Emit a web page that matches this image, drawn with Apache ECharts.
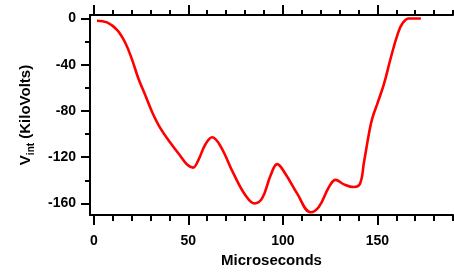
<!DOCTYPE html>
<html>
<head>
<meta charset="utf-8">
<script src="https://cdn.jsdelivr.net/npm/echarts@6/dist/echarts.min.js"></script>
<style>html,body{margin:0;padding:0;background:#fff}#c{width:454px;height:273px}</style>
</head>
<body>
<div id="c"></div>
<script>
var timeUs = [1.7, 7.0, 12.3, 16.7, 20.2, 23.7, 27.3, 30.8, 35.2, 40.5, 45.8, 49.5, 52.5, 55.5, 59, 62.6, 67, 74, 80.2, 85, 89, 93.5, 97, 101.4, 107.6, 114.7, 119.1, 124.4, 127.9, 132.3, 137.6, 140.8, 142.9, 145.6, 147.3, 150, 153.5, 157.1, 160.6, 163.3, 166.7, 173];
var voltKV = [-2, -3.4, -9.9, -21.2, -35.4, -52.4, -66.6, -80.7, -94.9, -107.6, -118.9, -126.6, -129, -121.8, -109, -102.8, -110.4, -134.5, -152.9, -160, -155.7, -135.9, -126, -134.5, -151.5, -167.6, -162.8, -145.8, -139.6, -143.5, -145.8, -143, -124.6, -99.1, -86.4, -73.6, -56.6, -34, -14.2, -4.2, 0, 0];
var xMajorTicks = [0, 50, 100, 150];
var xMinorTicks = [0, 10, 20, 30, 40, 50, 60, 70, 80, 90, 100, 110, 120, 130, 140, 150, 160, 170, 180, 190];
var yMajorTicks = [-160, -120, -80, -40, 0];
var yMinorTicks = [-160, -140, -120, -100, -80, -60, -40, -20, 0];

var FONT = 'Liberation Sans, Arial, sans-serif';
var pts = timeUs.map(function (t, i) { return [t, voltKV[i]]; });
var lineStyle = { color: '#000', width: 2 };

function xAx(pos, ticks, len, showLine, showLabel, extra) {
  var o = {
    type: 'value', position: pos, min: -2, max: 190,
    splitLine: { show: false },
    axisLine: { show: showLine, onZero: false, lineStyle: lineStyle },
    axisTick: { show: true, length: len, customValues: ticks, lineStyle: lineStyle },
    axisLabel: { show: showLabel, customValues: ticks, margin: 19, color: '#000', fontFamily: FONT, fontWeight: 'bold', fontSize: 14 }
  };
  for (var k in extra) o[k] = extra[k];
  return o;
}
function yAx(ticks, len, showLine, showLabel, extra) {
  var o = {
    type: 'value', position: 'left', min: -170, max: 3,
    splitLine: { show: false },
    axisLine: { show: showLine, onZero: false, lineStyle: lineStyle },
    axisTick: { show: true, length: len, customValues: ticks, lineStyle: lineStyle },
    axisLabel: { show: showLabel, customValues: ticks, margin: 14, color: '#000', fontFamily: FONT, fontWeight: 'bold', fontSize: 14 }
  };
  for (var k in extra) o[k] = extra[k];
  return o;
}

var chart = echarts.init(document.getElementById('c'), null, { renderer: 'canvas' });
chart.setOption({
  animation: false,
  backgroundColor: '#fff',
  grid: { left: 90, right: 1, top: 15, bottom: 56, containLabel: false },
  xAxis: [
    xAx('bottom', xMajorTicks, 10, true, true, {
      name: 'Microseconds', nameLocation: 'middle', nameGap: 38,
      nameTextStyle: { color: '#000', fontFamily: FONT, fontWeight: 'bold', fontSize: 15 }
    }),
    xAx('bottom', xMinorTicks, 6, false, false, {}),
    xAx('top', xMajorTicks, 10, true, false, {}),
    xAx('top', xMinorTicks, 5, false, false, {})
  ],
  yAxis: [
    yAx(yMajorTicks, 9, true, true, {
      name: '{a|V}{b|int}{a| (KiloVolts)}', nameLocation: 'middle', nameGap: 57,
      nameTextStyle: {
        color: '#000', fontFamily: FONT, fontWeight: 'bold', fontSize: 15,
        rich: {
          a: { color: '#000', fontFamily: FONT, fontWeight: 'bold', fontSize: 15, lineHeight: 18, verticalAlign: 'bottom' },
          b: { color: '#000', fontFamily: FONT, fontWeight: 'bold', fontSize: 10, lineHeight: 10, verticalAlign: 'bottom', padding: [0, 0, -3, 0] }
        }
      }
    }),
    yAx(yMinorTicks, 5, false, false, {})
  ],
  series: [{
    type: 'line', xAxisIndex: 0, yAxisIndex: 0, data: pts,
    smooth: 0.4, showSymbol: false, symbol: 'none',
    lineStyle: { color: '#ff0000', width: 2.6 }
  }]
});
</script>
</body>
</html>
